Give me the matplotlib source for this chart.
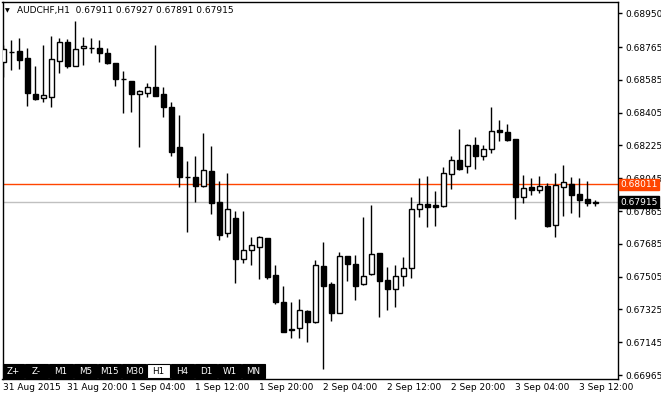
import matplotlib
matplotlib.use("Agg")
import matplotlib.pyplot as plt
from matplotlib.patches import Rectangle

W, H = 661, 397

# AUDCHF H1 candles (oldest first)
opens = [0.68684, 0.68739, 0.68743, 0.68703, 0.68506, 0.68487, 0.68492, 0.68687, 0.68792, 0.68662,
         0.68758, 0.68761, 0.68758, 0.68734, 0.68679, 0.68588, 0.68580, 0.68507, 0.68511, 0.68544,
         0.68507, 0.68434, 0.68218, 0.68053, 0.68050, 0.68004, 0.68085, 0.67916, 0.67743, 0.67825,
         0.67600, 0.67649, 0.67669, 0.67718, 0.67514, 0.67364, 0.67217, 0.67221, 0.67316, 0.67258,
         0.67563, 0.67464, 0.67307, 0.67618, 0.67574, 0.67463, 0.67518, 0.67633, 0.67486, 0.67435,
         0.67508, 0.67551, 0.67874, 0.67902, 0.67896, 0.67894, 0.68066, 0.68143, 0.68110, 0.68226,
         0.68165, 0.68204, 0.68308, 0.68297, 0.68260, 0.67944, 0.67997, 0.67982, 0.68001, 0.67787,
         0.67995, 0.68012, 0.67957, 0.67929, 0.67911]
highs = [0.68776, 0.68803, 0.68817, 0.68758, 0.68662, 0.68776, 0.68823, 0.68813, 0.68807, 0.68908,
         0.68822, 0.68816, 0.68803, 0.68761, 0.68679, 0.68633, 0.68580, 0.68529, 0.68566, 0.68776,
         0.68544, 0.68465, 0.68392, 0.68139, 0.68167, 0.68291, 0.68222, 0.68027, 0.68072, 0.67865,
         0.67865, 0.67721, 0.67728, 0.67718, 0.67569, 0.67453, 0.67367, 0.67382, 0.67322, 0.67596,
         0.67697, 0.67474, 0.67642, 0.67620, 0.67624, 0.67831, 0.67898, 0.67636, 0.67556, 0.67569,
         0.67611, 0.67944, 0.68045, 0.68057, 0.67975, 0.68105, 0.68167, 0.68315, 0.68233, 0.68270,
         0.68226, 0.68436, 0.68364, 0.68343, 0.68262, 0.68063, 0.68045, 0.68057, 0.68020, 0.68072,
         0.68118, 0.68050, 0.68045, 0.68030, 0.67927]
lows = [0.68602, 0.68639, 0.68644, 0.68443, 0.68474, 0.68463, 0.68437, 0.68621, 0.68648, 0.68660,
        0.68666, 0.68730, 0.68684, 0.68670, 0.68551, 0.68401, 0.68410, 0.68218, 0.68492, 0.68498,
        0.68383, 0.68169, 0.67998, 0.67751, 0.67916, 0.67998, 0.67847, 0.67706, 0.67721, 0.67472,
        0.67578, 0.67569, 0.67490, 0.67490, 0.67353, 0.67203, 0.67170, 0.67166, 0.67148, 0.67252,
        0.66998, 0.67261, 0.67305, 0.67483, 0.67377, 0.67461, 0.67516, 0.67285, 0.67322, 0.67340,
        0.67455, 0.67496, 0.67834, 0.67779, 0.67783, 0.67889, 0.67984, 0.68090, 0.68075, 0.68097,
        0.68147, 0.68185, 0.68251, 0.68251, 0.67823, 0.67907, 0.67953, 0.67962, 0.67779, 0.67721,
        0.67839, 0.67856, 0.67834, 0.67894, 0.67891]
closes = [0.68754, 0.68740, 0.68694, 0.68511, 0.68481, 0.68500, 0.68698, 0.68792, 0.68662, 0.68752,
          0.68771, 0.68762, 0.68734, 0.68676, 0.68588, 0.68589, 0.68507, 0.68525, 0.68544, 0.68498,
          0.68434, 0.68190, 0.68053, 0.68054, 0.68004, 0.68090, 0.67907, 0.67735, 0.67874, 0.67600,
          0.67651, 0.67677, 0.67721, 0.67504, 0.67367, 0.67203, 0.67210, 0.67320, 0.67258, 0.67567,
          0.67455, 0.67307, 0.67616, 0.67573, 0.67455, 0.67507, 0.67627, 0.67483, 0.67435, 0.67508,
          0.67551, 0.67876, 0.67902, 0.67889, 0.67889, 0.68072, 0.68143, 0.68097, 0.68226, 0.68169,
          0.68204, 0.68302, 0.68300, 0.68256, 0.67944, 0.67990, 0.67982, 0.68001, 0.67783, 0.68006,
          0.68023, 0.67955, 0.67927, 0.67907, 0.67915]

time_labels = ["31 Aug 2015", "31 Aug 20:00", "1 Sep 04:00", "1 Sep 12:00", "1 Sep 20:00",
               "2 Sep 04:00", "2 Sep 12:00", "2 Sep 20:00", "3 Sep 04:00", "3 Sep 12:00"]
time_bars = [0, 8, 16, 24, 32, 40, 48, 56, 64, 72]
price_ticks = [0.66965, 0.67145, 0.67325, 0.67505, 0.67685, 0.67865,
               0.68045, 0.68225, 0.68405, 0.68585, 0.68765, 0.68950]
bid = 0.67915
level = 0.68011
periods = ["Z+", "Z-", "M1", "M5", "M15", "M30", "H1", "H4", "D1", "W1", "MN"]

plt.rcParams['font.family'] = ['DejaVu Sans']

fig = plt.figure(figsize=(W / 100, H / 100), dpi=100)
fig.patch.set_facecolor("white")
ax = fig.add_axes([2.5 / W, 1 - 378.5 / H, 615.5 / W, 376.5 / H])

n = len(opens)
x = list(range(n))
ax.vlines(x, lows, highs, color="black", lw=1, zorder=2)
for i in x:
    o, c = opens[i], closes[i]
    lo, hi = min(o, c), max(o, c)
    if hi - lo < 0.00002:
        ax.hlines((o + c) / 2, i - 0.31, i + 0.31, color="black", lw=1, zorder=3)
    else:
        face = "white" if c > o else "black"
        ax.add_patch(Rectangle((i - 0.31, lo), 0.62, hi - lo, facecolor=face,
                               edgecolor="black", lw=1, zorder=3))

ax.axhline(level, color="#ff4500", lw=1, zorder=1)
ax.axhline(bid, color="#c0c0c0", lw=1, zorder=1)

ax.set_xlim(-0.1, 76.84)
ax.set_ylim(0.669458, 0.69012)

ax.yaxis.tick_right()
ax.set_yticks(price_ticks)
ax.set_yticklabels(["%.5f" % p for p in price_ticks])
ax.set_xticks(time_bars)
ax.set_xticklabels(time_labels, ha="left")
ax.tick_params(axis="y", length=3, width=1, pad=2, labelsize=6.5, colors="black")
ax.tick_params(axis="x", length=0, pad=3, labelsize=6.5, colors="black")
for lbl in ax.get_xticklabels():
    lbl.set_x(lbl.get_position()[0])
for s in ax.spines.values():
    s.set_color("black")
    s.set_linewidth(1)


def fx(px):
    return px / W


def fy(py):
    return 1 - py / H


# symbol header
fig.text(fx(5), fy(10.5), "\u25bc", fontsize=4.5, va="center", ha="left")
fig.text(fx(17), fy(10.5), "AUDCHF,H1  0.67911 0.67927 0.67891 0.67915",
         fontsize=6.5, va="center", ha="left", color="black")

# price labels on the right
fig.text(fx(620), fy(184.5), "0.68011", fontsize=6.5, va="center", ha="left", color="white",
         bbox=dict(boxstyle="square,pad=0.15", fc="#ff4500", ec="#ff4500"))
fig.text(fx(620), fy(202.3), "0.67915", fontsize=6.5, va="center", ha="left", color="white",
         bbox=dict(boxstyle="square,pad=0.15", fc="black", ec="black"))

# timeframe buttons
edges = [3, 25, 49, 74, 98, 122, 147, 171, 195, 218, 242, 266]
for k, name in enumerate(periods):
    x0, x1 = edges[k], edges[k + 1] - 1
    active = name == "H1"
    fig.add_artist(Rectangle((fx(x0), fy(378)), (x1 - x0) / W, 14.5 / H,
                             transform=fig.transFigure, facecolor="white" if active else "black",
                             edgecolor="black", lw=0.8))
    fig.text(fx((x0 + x1) / 2), fy(371), name, fontsize=6.3, ha="center", va="center",
             color="black" if active else "white",
             fontweight="normal" if name.startswith("Z") else "normal")

fig.savefig("out.png", dpi=100)
